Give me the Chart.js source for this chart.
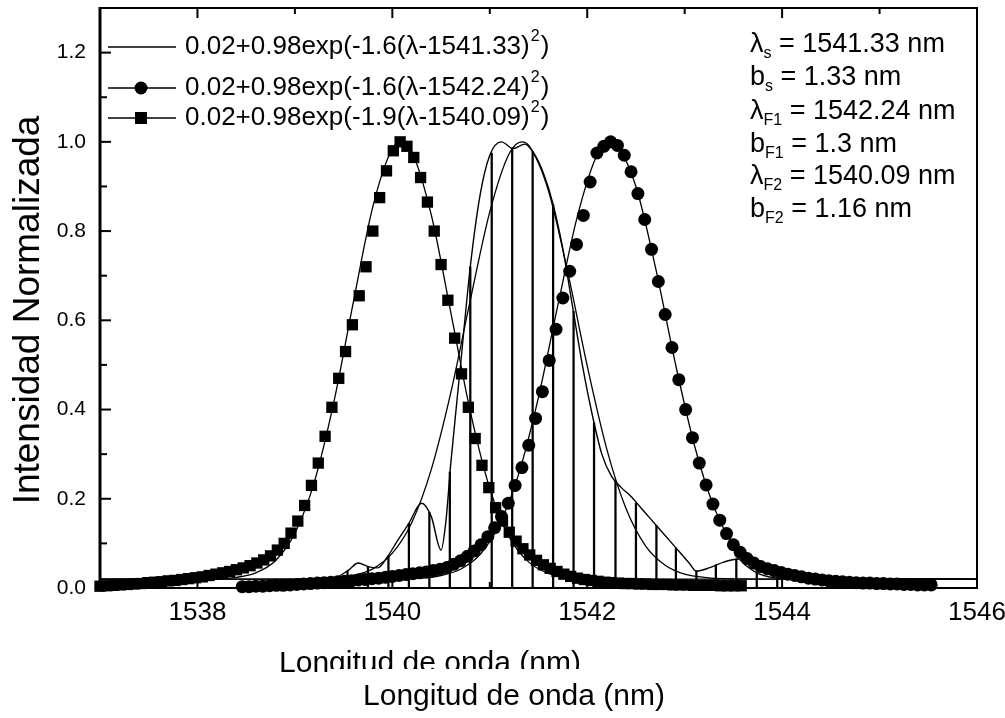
<!DOCTYPE html>
<html>
<head>
<meta charset="utf-8">
<script src="https://cdn.jsdelivr.net/npm/chart.js@4.4.1/dist/chart.umd.min.js"></script>
<style>
html,body{margin:0;padding:0;background:#fff;}
#wrap{width:1005px;height:718px;position:relative;}
</style>
</head>
<body>
<div id="wrap"><canvas id="c" width="1005" height="718"></canvas></div>
<script>
// ---------------- data ----------------
const xTickValues = [1538, 1540, 1542, 1544, 1546];
const xMinorTicks = [1539, 1541, 1543, 1545];
const yTickValues = [0.0, 0.2, 0.4, 0.6, 0.8, 1.0, 1.2];
const yMinorTicks = [0.1, 0.3, 0.5, 0.7, 0.9, 1.1];

// filter F2 measured points (squares)
const squareX = [1537.00,1537.07,1537.14,1537.21,1537.28,1537.35,1537.42,1537.49,1537.56,1537.63,
 1537.70,1537.77,1537.84,1537.91,1537.98,1538.05,1538.12,1538.19,1538.26,1538.33,
 1538.40,1538.47,1538.54,1538.61,1538.68,1538.75,1538.82,1538.89,1538.96,1539.03,
 1539.10,1539.17,1539.24,1539.31,1539.38,1539.45,1539.52,1539.59,1539.66,1539.73,
 1539.80,1539.87,1539.94,1540.01,1540.08,1540.15,1540.22,1540.29,1540.36,1540.43,
 1540.50,1540.57,1540.64,1540.71,1540.78,1540.85,1540.92,1540.99,1541.06,1541.13,
 1541.20,1541.27,1541.34,1541.41,1541.48,1541.55,1541.62,1541.69,1541.76,1541.83,
 1541.90,1541.97,1542.04,1542.11,1542.18,1542.25,1542.32,1542.39,1542.46,1542.53,
 1542.60,1542.67,1542.74,1542.81,1542.88,1542.95,1543.02,1543.09,1543.16,1543.23,
 1543.30,1543.37,1543.44,1543.51,1543.58];
const squareY = [.004,.005,.006,.007,.008,.009,.010,.012,.013,.014,
 .016,.017,.019,.021,.023,.025,.028,.031,.034,.037,
 .041,.045,.05,.056,.063,.072,.085,.10,.123,.15,
 .185,.23,.28,.34,.405,.47,.53,.59,.655,.72,
 .80,.875,.935,.98,1.0,.99,.965,.92,.865,.80,
 .725,.645,.56,.48,.405,.335,.275,.225,.18,.15,
 .125,.105,.088,.074,.062,.052,.044,.037,.031,.026,
 .022,.019,.017,.015,.013,.012,.011,.010,.010,.009,
 .009,.008,.008,.008,.007,.007,.007,.006,.006,.006,
 .006,.005,.005,.005,.005];

// filter F1 measured points (circles)
const circleX = [1538.46,1538.53,1538.60,1538.67,1538.74,1538.81,1538.88,1538.95,1539.02,1539.09,
 1539.16,1539.23,1539.30,1539.37,1539.44,1539.51,1539.58,1539.65,1539.72,1539.79,
 1539.86,1539.93,1540.00,1540.07,1540.14,1540.21,1540.28,1540.35,1540.42,1540.49,
 1540.56,1540.63,1540.70,1540.77,1540.84,1540.91,1540.98,1541.05,1541.12,1541.19,
 1541.26,1541.33,1541.40,1541.47,1541.54,1541.61,1541.68,1541.75,1541.82,1541.89,
 1541.96,1542.03,1542.10,1542.17,1542.24,1542.31,1542.38,1542.45,1542.52,1542.59,
 1542.66,1542.73,1542.80,1542.87,1542.94,1543.01,1543.08,1543.15,1543.22,1543.29,
 1543.36,1543.43,1543.50,1543.57,1543.64,1543.71,1543.78,1543.85,1543.92,1543.99,
 1544.06,1544.13,1544.20,1544.27,1544.34,1544.41,1544.48,1544.55,1544.62,1544.69,
 1544.76,1544.83,1544.90,1544.97,1545.04,1545.11,1545.18,1545.25,1545.32,1545.39,
 1545.46,1545.53];
const circleY = [.003,.003,.004,.004,.005,.006,.006,.007,.008,.009,
 .010,.011,.012,.013,.014,.015,.016,.018,.019,.021,
 .022,.024,.026,.028,.030,.032,.034,.036,.039,.042,
 .046,.053,.061,.071,.083,.097,.115,.135,.16,.19,
 .23,.27,.32,.38,.44,.51,.58,.65,.71,.77,
 .835,.91,.975,.99,1.0,.992,.970,.933,.884,.826,
 .759,.687,.613,.539,.467,.400,.337,.280,.231,.188,
 .152,.122,.097,.080,.066,.056,.048,.043,.039,.035,
 .031,.028,.025,.022,.020,.018,.016,.015,.014,.013,
 .012,.011,.011,.010,.010,.009,.009,.008,.008,.007,
 .007,.007];

// source fit curve (thin line)
const fitSX = [1537.0,1538.6,1539.0,1539.4,1539.6,1539.8,1540.0,1540.2,1540.4,1540.6,1540.8,1541.0,1541.2,1541.33,1541.4,1541.6,1541.8,1542.0,1542.2,1542.4,1542.6,1542.8,1543.0,1543.2,1543.4,1544.0,1546.0];
const fitSY = [.020,.020,.020,.023,.028,.043,.078,.147,.266,.438,.645,.843,.974,1.0,.992,.892,.708,.498,.312,.177,.094,.051,.031,.024,.021,.020,.020];
// filter F1 fit curve
const fitF1X = [1537.0,1539.9,1540.1,1540.3,1540.5,1540.7,1540.9,1541.1,1541.3,1541.5,1541.7,1541.9,1542.1,1542.24,1542.3,1542.5,1542.7,1542.9,1543.1,1543.3,1543.5,1543.7,1543.9,1544.1,1544.3,1544.8,1546.0];
const fitF1Y = [.020,.020,.021,.022,.028,.042,.075,.143,.258,.428,.635,.834,.970,1.0,.994,.900,.719,.508,.320,.182,.097,.052,.032,.024,.021,.020,.020];
// filter F2 fit curve
const fitF2X = [1537.0,1537.6,1538.0,1538.2,1538.4,1538.6,1538.8,1539.0,1539.2,1539.4,1539.6,1539.8,1540.0,1540.09,1540.2,1540.4,1540.6,1540.8,1541.0,1541.2,1541.4,1541.6,1541.8,1542.0,1542.5,1546.0];
const fitF2Y = [.020,.020,.020,.021,.024,.034,.061,.123,.238,.417,.641,.855,.985,1.0,.978,.836,.618,.396,.223,.114,.058,.033,.024,.021,.020,.020];

// measured source spectrum (thin line)
const specX = [1539.20,1539.40,1539.55,1539.65,1539.75,1539.85,1539.95,1540.05,1540.17,1540.30,
 1540.40,1540.50,1540.55,1540.60,1540.70,1540.80,1540.90,1541.00,1541.12,1541.24,
 1541.36,1541.45,1541.55,1541.65,1541.75,1541.85,1541.95,1542.05,1542.15,1542.25,
 1542.35,1542.45,1542.55,1542.65,1542.75,1542.85,1542.95,1543.05,1543.12,1543.25,
 1543.40,1543.55,1543.63,1543.75,1544.00,1546.00];
const specY = [.02,.022,.04,.056,.048,.045,.07,.105,.145,.19,
 .16,.085,.15,.28,.50,.72,.88,.97,1.0,.985,
 .995,.975,.93,.86,.76,.63,.50,.39,.30,.25,
 .225,.205,.18,.155,.13,.105,.08,.055,.038,.045,
 .058,.065,.05,.033,.022,.02];
// vertical drop lines of the measured spectrum
const dropX = [1539.54,1539.75,1539.96,1540.17,1540.38,1540.59,1540.80,1541.02,1541.23,1541.44,
 1541.65,1541.86,1542.07,1542.29,1542.50,1542.71,1542.91,1543.12,1543.32,1543.53,1543.74,1543.95];
const dropY = [.038,.048,.072,.145,.17,.26,.72,.975,.986,.978,
 .86,.62,.37,.24,.19,.14,.09,.038,.052,.065,.034,.023];

const legendLabels = ['0.02+0.98exp(-1.6(λ-1541.33)^2)', '0.02+0.98exp(-1.6(λ-1542.24)^2)', '0.02+0.98exp(-1.9(λ-1540.09)^2)'];
const legendMarkers = ['line', 'circle', 'rect'];
const annotLines = [['λ','s',' = 1541.33 nm'], ['b','s',' = 1.33 nm'], ['λ','F1',' = 1542.24 nm'], ['b','F1',' = 1.3 nm'], ['λ','F2',' = 1540.09 nm'], ['b','F2',' = 1.16 nm']];
const yTitle = 'Intensidad Normalizada';
const xTitle = 'Longitud de onda (nm)';

// ---------------- chart ----------------
const pts = (xs, ys) => xs.map((x, i) => ({x: x, y: ys[i]}));
const FONT = "'Liberation Sans', Arial, Helvetica, sans-serif";

const decor = {
  id: 'decor',
  afterDraw(chart) {
    const ctx = chart.ctx, a = chart.chartArea, xs = chart.scales.x, ys = chart.scales.y;
    ctx.save();
    ctx.strokeStyle = '#000'; ctx.fillStyle = '#000';
    const line = (x1, y1, x2, y2) => { ctx.beginPath(); ctx.moveTo(x1, y1); ctx.lineTo(x2, y2); ctx.stroke(); };
    // frame
    ctx.lineWidth = 2;
    ctx.strokeRect(a.left, a.top, a.right - a.left, a.bottom - a.top);
    ctx.lineWidth = 3;
    line(a.left, a.top - 1, a.left, a.bottom + 1);
    // inward ticks
    ctx.lineWidth = 2;
    yTickValues.forEach(v => { const p = ys.getPixelForValue(v); line(a.left, p, a.left + 11, p); });
    yMinorTicks.forEach(v => { const p = ys.getPixelForValue(v); line(a.left, p, a.left + 7, p); });
    xTickValues.forEach(v => { const p = xs.getPixelForValue(v); line(p, a.top, p, a.top + 10); line(p, a.bottom, p, a.bottom - 10); });
    xMinorTicks.forEach(v => { const p = xs.getPixelForValue(v); line(p, a.top, p, a.top + 6); line(p, a.bottom, p, a.bottom - 6); });

    // legend
    const rowsY = [47, 88, 118];
    ctx.textBaseline = 'middle'; ctx.textAlign = 'left';
    legendLabels.forEach((lab, i) => {
      const y = rowsY[i];
      ctx.lineWidth = 1.5;
      line(108, y, 176, y);
      if (legendMarkers[i] === 'circle') { ctx.beginPath(); ctx.arc(141, y, 6.5, 0, Math.PI * 2); ctx.fill(); }
      if (legendMarkers[i] === 'rect') { ctx.fillRect(135, y - 6, 12, 12); }
      const parts = lab.split('^');
      ctx.font = '26px ' + FONT;
      let x = 185;
      ctx.fillText(parts[0], x, y); x += ctx.measureText(parts[0]).width + 1;
      ctx.font = '16px ' + FONT;
      ctx.fillText(parts[1][0], x, y - 10); x += ctx.measureText(parts[1][0]).width + 1;
      ctx.font = '26px ' + FONT;
      ctx.fillText(parts[1].slice(1), x, y);
    });

    // parameter annotation
    const annY = [45, 78, 112, 145, 177, 210];
    annotLines.forEach((p, i) => {
      const y = annY[i];
      let x = 750;
      ctx.font = '27px ' + FONT;
      ctx.fillText(p[0], x, y); x += ctx.measureText(p[0]).width;
      ctx.font = '16px ' + FONT;
      ctx.fillText(p[1], x, y + 9); x += ctx.measureText(p[1]).width;
      ctx.font = '27px ' + FONT;
      ctx.fillText(p[2], x, y);
    });

    // axis titles
    ctx.textAlign = 'center';
    ctx.font = '37px ' + FONT;
    ctx.save(); ctx.translate(29, 310); ctx.rotate(-Math.PI / 2); ctx.fillText(yTitle, 0, 0); ctx.restore();
    ctx.font = '30px ' + FONT;
    ctx.fillText(xTitle, 430, 664);
    ctx.fillStyle = '#fff'; ctx.fillRect(330, 669, 300, 16);
    ctx.fillStyle = '#000';
    ctx.fillText(xTitle, 514, 697);
    ctx.restore();
  }
};

new Chart(document.getElementById('c'), {
  type: 'scatter',
  data: {
    datasets: [
      { label: 'F2', data: pts(squareX, squareY), pointStyle: 'rect', pointRadius: 8, backgroundColor: '#000', borderColor: '#000', borderWidth: 0, showLine: false, clip: false, order: 0 },
      { label: 'F1', data: pts(circleX, circleY), pointStyle: 'circle', pointRadius: 6.5, backgroundColor: '#000', borderColor: '#000', borderWidth: 0, showLine: false, clip: false, order: 0 },
      { type: 'line', label: legendLabels[0], data: pts(fitSX, fitSY), borderColor: '#000', borderWidth: 1.3, pointRadius: 0, cubicInterpolationMode: 'monotone', fill: false, order: 1 },
      { type: 'line', label: legendLabels[1], data: pts(fitF1X, fitF1Y), borderColor: '#000', borderWidth: 1.3, pointRadius: 0, cubicInterpolationMode: 'monotone', fill: false, order: 1 },
      { type: 'line', label: legendLabels[2], data: pts(fitF2X, fitF2Y), borderColor: '#000', borderWidth: 1.3, pointRadius: 0, cubicInterpolationMode: 'monotone', fill: false, order: 1 },
      { type: 'line', label: 'espectro', data: pts(specX, specY), borderColor: '#000', borderWidth: 1.4, pointRadius: 0, cubicInterpolationMode: 'monotone', fill: false, order: 1 },
      { type: 'bar', label: 'drop', data: pts(dropX, dropY), backgroundColor: '#000', barThickness: 1.6, order: 2 }
    ]
  },
  options: {
    responsive: false,
    animation: false,
    devicePixelRatio: 1,
    events: [],
    layout: { padding: { top: 7, right: 28, left: 0, bottom: 0 } },
    plugins: { legend: { display: false }, tooltip: { enabled: false } },
    scales: {
      x: {
        type: 'linear', min: 1537, max: 1546, offset: false,
        grid: { display: false, drawTicks: false }, border: { display: false },
        afterBuildTicks: s => { s.ticks = xTickValues.map(v => ({ value: v })); },
        afterFit: s => { s.height = 130; s.paddingLeft = 0; s.paddingRight = 0; },
        ticks: { color: '#000', padding: 9, maxRotation: 0, autoSkip: false,
          font: { family: "'Liberation Sans Narrow', 'Liberation Sans', Arial, sans-serif", size: 26 },
          callback: v => String(v) }
      },
      y: {
        type: 'linear', min: 0, max: 1.3,
        grid: { display: false, drawTicks: false }, border: { display: false },
        afterBuildTicks: s => { s.ticks = yTickValues.map(v => ({ value: v })); },
        afterFit: s => { s.width = 100; s.paddingTop = 0; s.paddingBottom = 0; },
        ticks: { color: '#000', padding: 14, font: { family: FONT, size: 21 },
          callback: v => Number(v).toFixed(1) }
      }
    }
  },
  plugins: [decor]
});
</script>
</body>
</html>
